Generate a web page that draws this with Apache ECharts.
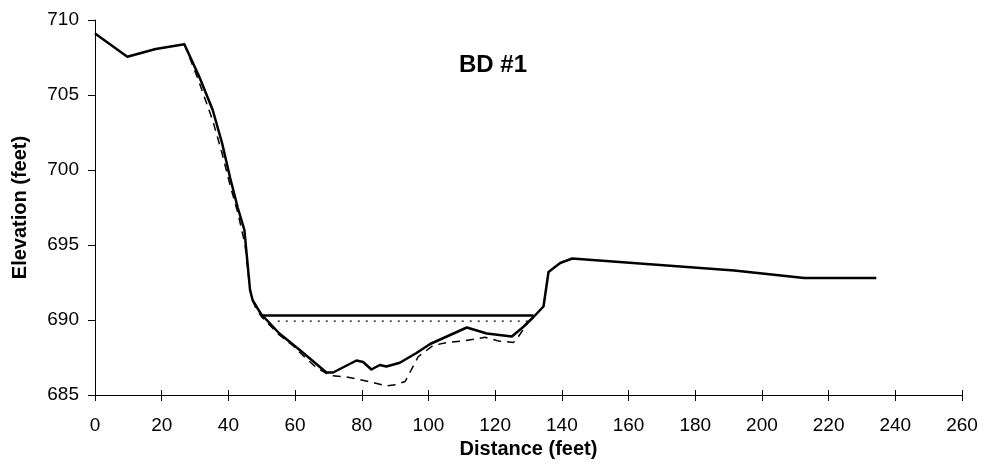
<!DOCTYPE html>
<html>
<head>
<meta charset="utf-8">
<script src="https://cdn.jsdelivr.net/npm/echarts@6/dist/echarts.min.js"></script>
<style>html,body{margin:0;padding:0;background:#fff}#c{width:983px;height:465px}</style>
</head>
<body>
<div id="c"></div>
<script>
var groundX = [0, 9.7, 18.2, 26.8, 31.3, 35.3, 38.1, 40.5, 42.8, 44.8, 46.5, 47.3, 49.8, 55.3, 61.4, 69.4, 71.4, 78.4, 80.4, 82.9, 85.4, 87.4, 91.4, 96.4, 100.5, 105.5, 111.5, 117.5, 125, 128.5, 131.5, 134.5, 136, 139.5, 143.1, 191.7, 212.7, 234.3];
var groundY = [709.1, 707.55, 708.07, 708.38, 706.2, 704, 701.8, 699.5, 697.5, 696, 692, 691.3, 690.4, 689.1, 688, 686.5, 686.5, 687.3, 687.2, 686.7, 687.0, 686.9, 687.15, 687.8, 688.4, 688.9, 689.5, 689.1, 688.9, 689.55, 690.2, 690.9, 693.2, 693.8, 694.1, 693.3, 692.8, 692.8];
var oldX = [26.8, 31, 35.3, 38, 40.5, 43, 45, 46.5, 48, 50, 55.3, 59.3, 63, 66, 70.4, 75.4, 78.4, 83.9, 87.4, 90.4, 93, 94.9, 96.9, 99, 101.4, 105.5, 110.5, 117, 121, 125.5, 127, 130];
var oldY = [708.38, 706, 703.3, 701.2, 699, 697, 695, 692, 690.9, 690.2, 689, 688.3, 687.5, 686.9, 686.3, 686.2, 686.07, 685.8, 685.6, 685.7, 685.9, 686.7, 687.55, 687.9, 688.3, 688.5, 688.6, 688.85, 688.6, 688.5, 688.9, 689.9];
var waterX = [49.8, 131.5];
var waterY = [690.3, 690.3];
var dottedX = [54.8, 130];
var dottedY = [689.93, 689.93];
var xTicks = [0, 20, 40, 60, 80, 100, 120, 140, 160, 180, 200, 220, 240, 260];
var yTicks = [685, 690, 695, 700, 705, 710];

function pairs(xs, ys) { return xs.map(function (x, i) { return [x, ys[i]]; }); }

var chart = echarts.init(document.getElementById('c'), null, { renderer: 'canvas' });
var font = 'Liberation Sans, Arial, sans-serif';
var xCommon = {
  type: 'value', min: xTicks[0], max: xTicks[xTicks.length - 1], interval: 20,
  splitLine: { show: false },
  axisLine: { show: true, lineStyle: { color: '#000', width: 1 } }
};
chart.setOption({
  animation: false,
  backgroundColor: '#fff',
  title: {
    text: 'BD #1', left: 488, top: 48, textAlign: 'center',
    textStyle: { fontFamily: font, fontWeight: 'bold', fontSize: 24, color: '#000' }
  },
  grid: { left: 95, right: 21, top: 20, bottom: 70 },
  xAxis: [
    Object.assign({}, xCommon, {
      name: 'Distance (feet)', nameLocation: 'middle', nameGap: 44,
      nameTextStyle: { fontFamily: font, fontWeight: 'bold', fontSize: 20, color: '#000' },
      axisTick: { show: true, inside: false, length: 6, lineStyle: { color: '#000' } },
      axisLabel: { fontFamily: font, fontSize: 19, color: '#000', margin: 21 }
    }),
    Object.assign({}, xCommon, {
      position: 'bottom',
      axisTick: { show: true, inside: true, length: 5, lineStyle: { color: '#000' } },
      axisLabel: { show: false }
    })
  ],
  yAxis: {
    type: 'value', min: yTicks[0], max: yTicks[yTicks.length - 1], interval: 5,
    name: 'Elevation (feet)', nameLocation: 'middle', nameGap: 65,
    nameTextStyle: { fontFamily: font, fontWeight: 'bold', fontSize: 20, color: '#000' },
    splitLine: { show: false },
    axisLine: { show: true, lineStyle: { color: '#000', width: 1 } },
    axisTick: { show: true, length: 7, lineStyle: { color: '#000' } },
    axisLabel: { fontFamily: font, fontSize: 19, color: '#000', margin: 16 }
  },
  series: [
    { type: 'line', data: pairs(oldX, oldY), symbol: 'none', z: 2,
      lineStyle: { color: '#000', width: 1.5, type: [8, 6] } },
    { type: 'line', data: pairs(dottedX, dottedY), symbol: 'none', z: 2,
      lineStyle: { color: '#000', width: 1.2, type: [2, 6] } },
    { type: 'line', data: pairs(waterX, waterY), symbol: 'none', z: 3,
      lineStyle: { color: '#000', width: 2.5 } },
    { type: 'line', data: pairs(groundX, groundY), symbol: 'none', z: 4,
      lineStyle: { color: '#000', width: 2.5, join: 'round' } }
  ]
});
</script>
</body>
</html>
